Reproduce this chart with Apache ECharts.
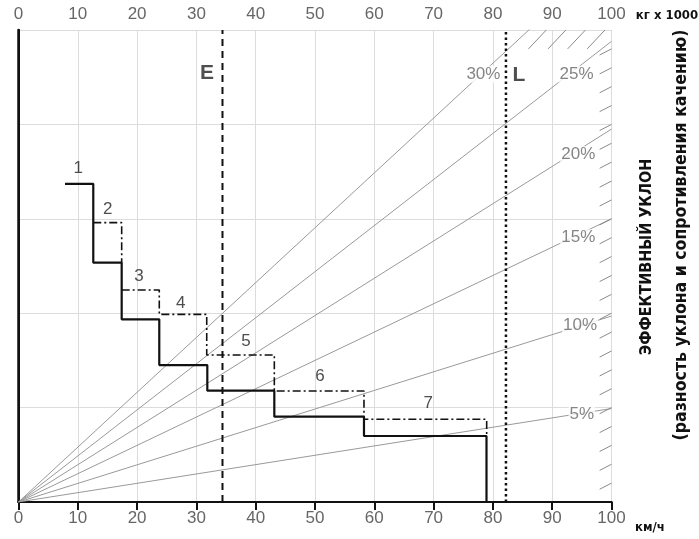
<!DOCTYPE html>
<html>
<head>
<meta charset="utf-8">
<script src="https://cdn.jsdelivr.net/npm/echarts@6/dist/echarts.min.js"></script>
<style>
  html, body { margin: 0; padding: 0; background: #fff; }
  #chart { width: 699px; height: 539px; }
</style>
</head>
<body>
<div id="chart"></div>
<script>
// скорость, км/ч и тяговое усилие (в делениях сетки)
var speedTicks = [0, 10, 20, 30, 40, 50, 60, 70, 80, 90, 100];

// уклоны: усилие при 100 км/ч
var gradeNames = ['5%', '10%', '15%', '20%', '25%', '30%'];
var gradeEnd = [0.99, 1.97, 3.0, 3.95, 4.88, 5.81];
var gradeLabelX = [95.0, 94.7, 94.4, 94.4, 94.1, 78.4];
var gradeLabelY = [0.93, 1.875, 2.80, 3.68, 4.53, 4.53];

// основная кривая (сплошная)
var mainSpeed = [7.84, 12.61, 17.40, 23.74, 31.84, 43.14, 58.26, 78.92];
var mainForce = [3.37, 2.535, 1.935, 1.451, 1.179, 0.904, 0.699, 0];

// промежуточные передачи (штрихпунктир)
var altASpeed = [12.61, 17.40];
var altAForce = [2.959, 2.535];
var altBSpeed = [17.40, 23.74, 31.74, 43.14, 58.26, 78.95];
var altBForce = [2.246, 1.988, 1.557, 1.176, 0.876, 0.699];

// номера передач
var gearNames = ['1', '2', '3', '4', '5', '6', '7'];
var gearLabelX = [10.08, 15.04, 20.32, 27.35, 38.36, 50.84, 69.1];
var gearLabelY = [3.535, 3.10, 2.387, 2.105, 1.698, 1.335, 1.046];

// ограничения E и L
var limitE = 34.4;
var limitL = 82.2;

// штриховка края
var hatchTopX = [86.0, 89.3, 92.6, 95.9];
var hatchRightY = [0.2, 0.4, 0.6, 0.8, 1.0, 1.2, 1.4, 1.6, 1.8, 2.0, 2.2, 2.4,
                   2.6, 2.8, 3.0, 3.2, 3.4, 3.6, 3.8, 4.0, 4.2, 4.4, 4.6, 4.8];

var chart = echarts.init(document.getElementById('chart'));

function pairs(xs, ys) {
    var out = [];
    for (var i = 0; i < xs.length; i++) out.push([xs[i], ys[i]]);
    return out;
}

var series = [];

// линии уклонов
for (var i = 0; i < gradeNames.length; i++) {
    series.push({
        type: 'line',
        name: gradeNames[i],
        data: [[0, 0], [100, gradeEnd[i]]],
        symbol: 'none',
        silent: true,
        z: 2,
        lineStyle: { color: '#999', width: 1 }
    });
}

// штриховка
var hatchData = [];
for (var i = 0; i < hatchTopX.length; i++) {
    hatchData.push({ coords: [[hatchTopX[i], 4.8], [hatchTopX[i] + 3.0, 5.0]] });
}
for (var i = 0; i < hatchRightY.length; i++) {
    hatchData.push({ coords: [[98, hatchRightY[i] - 0.065], [100, hatchRightY[i]]] });
}
series.push({
    type: 'lines',
    coordinateSystem: 'cartesian2d',
    data: hatchData,
    silent: true,
    z: 6,
    lineStyle: { color: '#8a8a8a', width: 1, opacity: 1 }
});

// подписи уклонов
series.push({
    type: 'scatter',
    data: gradeNames.map(function (n, i) { return { name: n, value: [gradeLabelX[i], gradeLabelY[i]] }; }),
    symbolSize: 0,
    silent: true,
    z: 5,
    label: {
        show: true, position: 'inside', formatter: '{b}',
        fontFamily: 'Liberation Sans, Arial, sans-serif', fontSize: 17, color: '#666',
        backgroundColor: '#fff', padding: [0, 1]
    }
});

// E и L
series.push({
    type: 'line',
    data: [[limitE, 0], [limitE, 5]],
    symbol: 'none',
    silent: true,
    z: 7,
    lineStyle: { color: '#111', width: 2, type: [7, 5] }
});
series.push({
    type: 'line',
    data: [[limitL, 0], [limitL, 5]],
    symbol: 'none',
    silent: true,
    z: 7,
    lineStyle: { color: '#111', width: 2.5, type: [2.5, 3] }
});
series.push({
    type: 'scatter',
    data: [{ name: 'E', value: [31.8, 4.545] }, { name: 'L', value: [84.4, 4.52] }],
    symbolSize: 0,
    silent: true,
    z: 7,
    label: {
        show: true, position: 'inside', formatter: '{b}',
        fontFamily: 'Liberation Sans, Arial, sans-serif', fontWeight: 'bold', fontSize: 21, color: '#222'
    }
});

// кривые передач
series.push({
    type: 'line',
    data: pairs(altASpeed, altAForce),
    step: 'end',
    symbol: 'none',
    z: 8,
    lineStyle: { color: '#111', width: 1.6, type: [8, 3, 2, 3] }
});
series.push({
    type: 'line',
    data: pairs(altBSpeed, altBForce),
    step: 'end',
    symbol: 'none',
    z: 8,
    lineStyle: { color: '#111', width: 1.6, type: [8, 3, 2, 3] }
});
series.push({
    type: 'line',
    data: pairs(mainSpeed, mainForce),
    step: 'end',
    symbol: 'none',
    z: 9,
    lineStyle: { color: '#111', width: 2.2 }
});
series.push({
    type: 'scatter',
    data: gearNames.map(function (n, i) { return { name: n, value: [gearLabelX[i], gearLabelY[i]] }; }),
    symbolSize: 0,
    silent: true,
    z: 9,
    label: {
        show: true, position: 'inside', formatter: '{b}',
        fontFamily: 'Liberation Sans, Arial, sans-serif', fontSize: 17, color: '#222'
    }
});

var tickLabel = { fontFamily: 'Liberation Sans, Arial, sans-serif', fontSize: 17, color: '#666' };
var narrow = '"DejaVu Sans Condensed", "Liberation Sans Narrow", "DejaVu Sans", sans-serif';

chart.setOption({
    animation: false,
    backgroundColor: '#fff',
    grid: { left: 18.5, right: 87.5, top: 30, bottom: 37 },
    xAxis: [
        {
            type: 'value', position: 'bottom', min: 0, max: 100, interval: 10,
            axisLine: { show: true, lineStyle: { color: '#111', width: 2 } },
            axisTick: { show: true, length: 8, inside: false, lineStyle: { color: '#111', width: 2 } },
            axisLabel: Object.assign({ margin: 8, formatter: function (v) { return speedTicks.indexOf(v) >= 0 ? v : ''; } }, tickLabel),
            splitLine: { show: true, lineStyle: { color: '#dcdcdc', width: 1 } }
        },
        {
            type: 'value', position: 'top', min: 0, max: 100, interval: 10,
            axisLine: { show: true, lineStyle: { color: '#111', width: 2 } },
            axisTick: { show: true, length: 8, inside: true, lineStyle: { color: '#111', width: 2 } },
            axisLabel: Object.assign({ margin: 7 }, tickLabel),
            splitLine: { show: false }
        }
    ],
    yAxis: [
        {
            type: 'value', position: 'left', min: 0, max: 5, interval: 1,
            axisLine: { show: true, lineStyle: { color: '#111', width: 2.5 } },
            axisTick: { show: false },
            axisLabel: { show: false },
            splitLine: { show: true, lineStyle: { color: '#dcdcdc', width: 1 } }
        },
        {
            type: 'value', position: 'right', min: 0, max: 5, interval: 1,
            axisLine: { show: true, lineStyle: { color: '#111', width: 2 } },
            axisTick: { show: false },
            axisLabel: { show: false },
            splitLine: { show: false }
        }
    ],
    graphic: [
        {
            type: 'text', x: 667, y: 16,
            style: { text: 'кг x 1000', font: 'bold 13px ' + narrow, fill: '#111', align: 'center', verticalAlign: 'middle' }
        },
        {
            type: 'text', x: 650, y: 528,
            style: { text: 'км/ч', font: 'bold 13px ' + narrow, fill: '#111', align: 'center', verticalAlign: 'middle' }
        },
        {
            type: 'text', x: 647, y: 257, rotation: Math.PI / 2,
            style: { text: 'ЭФФЕКТИВНЫЙ УКЛОН', font: 'bold 16px ' + narrow, fill: '#111', align: 'center', verticalAlign: 'middle' }
        },
        {
            type: 'text', x: 681, y: 235, rotation: Math.PI / 2,
            style: { text: '(разность уклона и сопротивления качению)', font: 'bold 17.5px ' + narrow, fill: '#111', align: 'center', verticalAlign: 'middle' }
        }
    ],
    series: series
});
</script>
</body>
</html>
